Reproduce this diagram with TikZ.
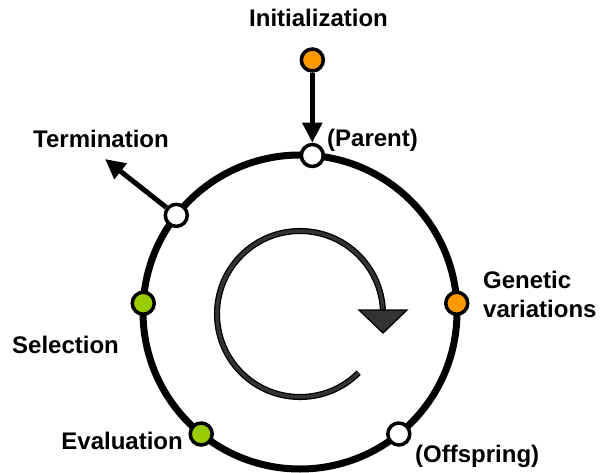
\documentclass[tikz,border=0pt]{standalone}
\usepackage{fontspec}
\setmainfont{Liberation Sans}
\usetikzlibrary{
        arrows.meta,
        calc,
        positioning
    }
\definecolor{ringorange}{RGB}{255,153,0}
\definecolor{ringgreen}{RGB}{153,204,0}
\definecolor{spingray}{RGB}{51,51,51}
\tikzset{>={Triangle[length=20pt,width=19pt]},x=1pt,y=1pt}
\tikzset{dot/.style={circle,draw=black,line width=3.5pt,minimum size=22pt,inner sep=0pt,fill=white},
         tag/.style={inner sep=0pt,font=\fontsize{24}{29}\selectfont\bfseries}}

\begin{document}
\begin{tikzpicture}
                        \useasboundingbox (0,0) rectangle (602,472);
                        \coordinate (ctr) at (300,160);
                        \coordinate (spinctr) at (300,158);
                        % ring
                        \draw[line width=7pt] (ctr) circle (157);
                        \node[dot] (parent)   at ($(ctr)+(85.5:157)$)  {};
                        \node[dot] (stop)     at ($(ctr)+(142:157)$)   {};
                        \node[dot,fill=ringgreen] (select) at ($(ctr)+(176.8:157)$) {};
                        \node[dot,fill=ringorange] (vary)  at ($(ctr)+(3.2:157)$)   {};
                        \node[dot,fill=ringgreen] (eval)   at ($(ctr)+(231:157)$)   {};
                        \node[dot] (child)    at ($(ctr)+(309:157)$)   {};
                        \node[dot,fill=ringorange] (init)  [above=70pt of parent] {};
                        \coordinate (stoptip) at (105,313);
                        \path[->,line width=5pt]
                            (init)  edge  (parent)
                            (stop)  edge  (stoptip)
                        ;
                        % texts
                        \node[tag,anchor=base west] (inittext)   at (249,445) {Initialization};
                        \node[tag,anchor=base west] (parenttext) at (327,325) {(Parent)};
                        \node[tag,anchor=base west] (stoptext)   at (33,324)  {Termination};
                        \node[tag,anchor=base west] (selecttext) at (12,119)  {Selection};
                        \node[tag,anchor=base west,align=left] (varytext) at (483,155) {Genetic\\variations};
                        \node[tag,anchor=base east] (evaltext)   at (183,23)  {Evaluation};
                        \node[tag,anchor=base west] (childtext)  at (415,10)  {(Offspring)};
                        % cycle arrow
                        \coordinate (spinend) at ($(spinctr)+(0:83)$);
                        \draw[line width=1.3pt,double=spingray,double distance=3.5pt]
                            ($(spinctr)+(-45:83)$) arc[start angle=-45,end angle=-360,radius=83];
                        \draw[line width=1.3pt,fill=spingray]
                            ($(spinend)+(-24,4)$) -- ($(spinend)+(24,4)$) -- ($(spinend)+(0,-19)$) -- cycle;
                    \end{tikzpicture}
\end{document}
